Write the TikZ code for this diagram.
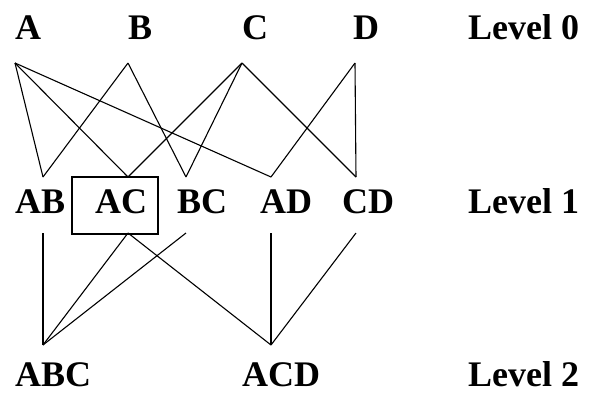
\documentclass[tikz,border=0pt]{standalone}
\usepackage{fontspec}
\setmainfont{Liberation Serif}
\begin{document}
\begin{tikzpicture}[x=1pt,y=-1pt,
  lbl/.style={anchor=base west,inner sep=0pt,font=\fontsize{36}{40}\selectfont\bfseries},
  edge/.style={line width=1.1pt},
  hbox/.style={draw,line width=1.3pt,minimum width=86pt,minimum height=57pt,inner sep=0pt}]
\useasboundingbox (0,0) rectangle (590,394);
% labels
\node[lbl] (A) at (15,39) {A};
\node[lbl] (B) at (128,39) {B};
\node[lbl] (C) at (242,39) {C};
\node[lbl] (D) at (353,39) {D};
\node[lbl] (L0) at (468,39) {Level 0};
\node[lbl] (AB) at (15,213) {AB};
\node[lbl] (AC) at (95,213) {AC};
\node[lbl] (BC) at (177,213) {BC};
\node[lbl] (AD) at (260,213) {AD};
\node[lbl] (CD) at (342,213) {CD};
\node[lbl] (L1) at (468,213) {Level 1};
\node[lbl] (ABC) at (15,386) {ABC};
\node[lbl] (ACD) at (242,386) {ACD};
\node[lbl] (L2) at (468,386) {Level 2};
\node[hbox] (box) at (115,205.5) {};
% connection points
\coordinate (a0) at (15,63);
\coordinate (b0) at (128,63);
\coordinate (c0) at (242,63);
\coordinate (d0) at (355,63);
\coordinate (ab1t) at (43,177);
\coordinate (ac1t) at (128,177);
\coordinate (bc1t) at (186,177);
\coordinate (ad1t) at (271,177);
\coordinate (cd1t) at (356,177);
\coordinate (ab1b) at (43,233);
\coordinate (ac1b) at (128,233);
\coordinate (bc1b) at (186,233);
\coordinate (ad1b) at (271,233);
\coordinate (cd1b) at (356,233);
\coordinate (abc2) at (43,345);
\coordinate (acd2) at (271,345);
% level 0 -> level 1
\draw[edge] (a0) -- (ab1t);
\draw[edge] (a0) -- (ac1t);
\draw[edge] (a0) -- (ad1t);
\draw[edge] (b0) -- (ab1t);
\draw[edge] (b0) -- (bc1t);
\draw[edge] (c0) -- (ac1t);
\draw[edge] (c0) -- (bc1t);
\draw[edge] (c0) -- (cd1t);
\draw[edge] (d0) -- (ad1t);
\draw[edge] (d0) -- (cd1t);
% level 1 -> level 2
\draw[edge] (ab1b) -- (abc2);
\draw[edge] (ac1b) -- (abc2);
\draw[edge] (bc1b) -- (abc2);
\draw[edge] (ac1b) -- (acd2);
\draw[edge] (ad1b) -- (acd2);
\draw[edge] (cd1b) -- (acd2);
\end{tikzpicture}
\end{document}
